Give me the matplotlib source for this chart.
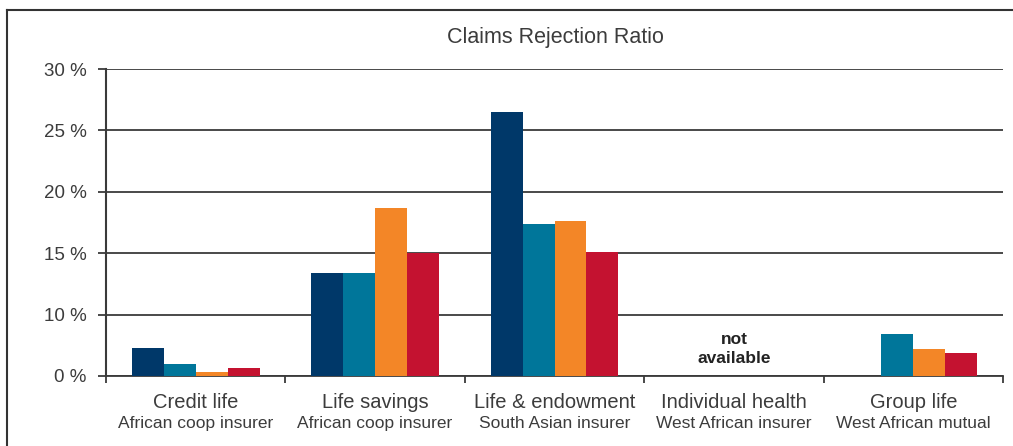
import numpy as np
import matplotlib
matplotlib.use("Agg")
import matplotlib.pyplot as plt
from matplotlib.lines import Line2D

plt.rcParams['font.family'] = ['Liberation Sans', 'DejaVu Sans']

# data (values read against the printed tick labels)
categories = ['Credit life', 'Life savings', 'Life & endowment', 'Individual health', 'Group life']
insurers = ['African coop insurer', 'African coop insurer', 'South Asian insurer',
            'West African insurer', 'West African mutual']
series_1 = [7.3, 13.4, 26.5, np.nan, np.nan]
series_2 = [6.0, 13.4, 17.4, np.nan, 8.4]
series_3 = [5.3, 18.7, 17.6, np.nan, 7.2]
series_4 = [5.65, 15.0, 15.1, np.nan, 6.9]
tick_values = [5, 10, 15, 20, 25, 30]
tick_labels = ['0 %', '10 %', '15 %', '20 %', '25 %', '30 %']

colors = ['#003869', '#00769A', '#F38627', '#C41230']
txt = '#3c3c3c'
grid_c = '#3a3a3a'

fig = plt.figure(figsize=(10.13, 4.46), dpi=100)
ax = fig.add_axes([106/1013, 1 - 376/446, (1003 - 106)/1013, (376 - 69)/446])

x = np.arange(len(categories))
w = 0.178
for i, (vals, c) in enumerate(zip([series_1, series_2, series_3, series_4], colors)):
    ax.bar(x + (i - 1.5) * w, vals, width=w, color=c, zorder=3, linewidth=0)

ax.set_xlim(-0.5, len(categories) - 0.5)
ax.set_ylim(5, 30)
ax.set_yticks(tick_values)
ax.set_yticklabels(tick_labels, fontsize=13.5, color=txt)
ax.tick_params(axis='y', length=6, width=1.3, color=grid_c, pad=8)

# category separators as ticks
ax.set_xticks(np.arange(len(categories) + 1) - 0.5)
ax.set_xticklabels([])
ax.tick_params(axis='x', length=5, width=1.3, color=grid_c, direction='out')

ax.yaxis.grid(True, color=grid_c, linewidth=1.3, zorder=1)
ax.set_axisbelow(True)
for s in ['top', 'right']:
    ax.spines[s].set_visible(False)
ax.spines['left'].set_color(grid_c)
ax.spines['left'].set_linewidth(1.5)
ax.spines['bottom'].set_color(grid_c)
ax.spines['bottom'].set_linewidth(1.3)

tr = ax.get_xaxis_transform()
for xi, cat, ins in zip(x, categories, insurers):
    ax.text(xi, -0.085, cat, transform=tr, ha='center', va='center', fontsize=14.5, color=txt)
    ax.text(xi, -0.155, ins, transform=tr, ha='center', va='center', fontsize=12.5, color=txt)

ax.text(3, 7.2, 'not\navailable', ha='center', va='center', fontsize=12.5,
        fontweight='bold', color='#222222', linespacing=1.4)

fig.text(555/1013, 1 - 38/446, 'Claims Rejection Ratio', ha='center', va='center',
         fontsize=15.5, color=txt)

# frame around the figure (top and left edges visible)
fig.add_artist(Line2D([7/1013, 1], [1 - 10/446, 1 - 10/446], color='#333333', linewidth=1.5))
fig.add_artist(Line2D([7/1013, 7/1013], [0, 1 - 10/446], color='#333333', linewidth=1.5))

fig.savefig('out.png', dpi=100)
